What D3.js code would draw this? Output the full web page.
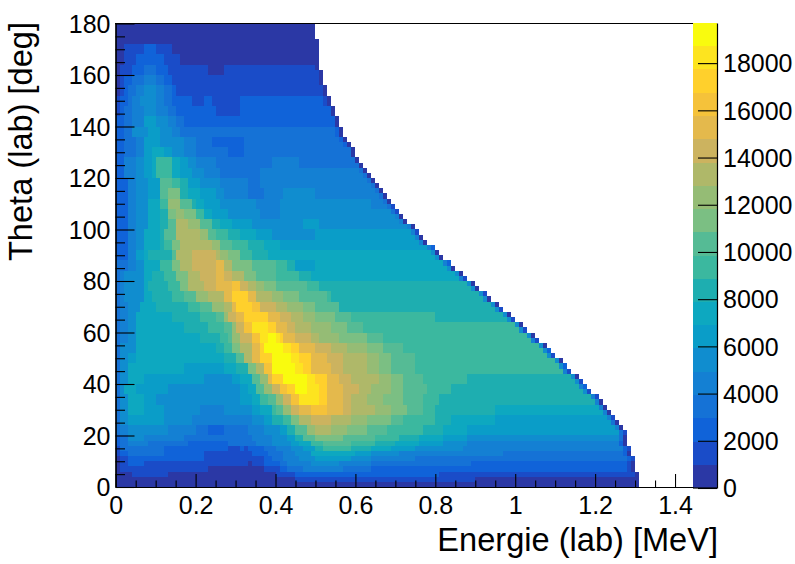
<!DOCTYPE html>
<html><head><meta charset="utf-8">
<script src="https://cdn.jsdelivr.net/npm/d3@7/dist/d3.min.js"></script>
<style>html,body{margin:0;background:#fff}svg{display:block}text{font-family:"Liberation Sans",Arial,sans-serif;fill:#000}</style>
</head><body><svg id="c" width="795" height="564"></svg>
<script>
// Z bands of the colour palette (20 contours, 985 counts each)
const bandColors=["#2b38a5","#1a4cc8","#1063d9","#1572d6","#1480d3","#108dcf","#0a9dc8","#0da8c0","#1eaeb0","#3bb89f","#55bb95","#7bbf83","#95bc75","#afb869","#ccb35f","#e4b94c","#f5c23a","#ffd02c","#fde41f","#f9fb0e"];
const zMax=19700, zStep=985, binWidth=0.01, thetaBin=2;
const xTicks=[0,0.2,0.4,0.6,0.8,1,1.2,1.4];
const yTicks=[0,20,40,60,80,100,120,140,160,180];
const zTicks=[0,2000,4000,6000,8000,10000,12000,14000,16000,18000];
// Lower theta edge of every table row
const thetaLow=[0,2,4,6,8,10,12,14,16,18,20,24,28,32,36,40,44,48,52,56,60,64,68,72,76,80,84,88,92,96,100,104,108,112,116,120,124,128,132,136,140,144,148,152,156,160,164,168,172,176,180];
// Runs: start bin, Z band, start bin, Z band ...
const bandRuns=[
[0,0],
[0,0,45,1,90,0],
[0,0,4,1,13,0,40,1,45,2,81,1],
[0,0,1,1,23,0,37,1,41,2,43,3,47,4,57,3,64,2],
[0,0,1,1,3,2,7,1,33,0,34,1,37,2,41,3,43,4,49,5,56,4,64,3,89,2],
[0,0,1,1,3,2,22,1,37,2,39,3,42,4,46,5,50,6,59,5,64,4,75,3],
[0,1,1,2,3,3,12,2,22,1,34,2,38,3,42,4,45,5,49,7,60,6,64,5,71,4,97,3],
[0,1,1,3,12,2,28,1,31,2,32,1,33,2,37,3,40,4,44,5,47,6,50,8,52,9,59,8,64,7,69,6,75,5,87,4],
[0,2,1,3,3,4,8,3,18,2,28,3,35,4,39,5,44,6,46,7,49,9,52,10,59,9,65,8,70,7,76,6,82,5,88,4],
[0,2,1,3,3,5,7,4,17,3,34,4,39,5,43,6,45,8,47,10,50,11,57,10,65,9,71,8,76,7,82,6,88,5],
[0,3,1,4,3,5,13,4,20,3,23,2,27,3,33,4,37,5,41,6,43,8,45,10,48,12,50,13,54,12,58,11,63,10,68,9,77,8,82,7,88,6],
[0,3,1,5,3,6,12,5,19,4,34,5,37,6,39,8,42,9,44,11,46,13,49,14,54,13,59,12,63,11,69,10,72,9,80,8,84,7,95,6],
[0,3,1,5,3,7,7,6,12,5,21,4,27,5,34,6,36,7,39,9,40,10,42,12,44,14,46,15,49,16,53,15,57,14,59,13,65,12,69,11,73,10,77,9,80,8,95,7],
[0,3,1,5,3,7,7,6,10,5,31,6,34,7,36,9,38,10,40,12,42,14,44,16,46,18,51,17,53,15,57,14,59,13,63,12,67,11,72,10,77,9,81,8],
[0,3,1,5,2,7,5,6,13,5,31,6,33,7,35,10,37,12,39,14,41,16,43,17,45,19,48,18,51,17,53,15,57,14,61,13,64,12,69,11,72,10,78,9,84,8],
[0,3,1,5,3,7,7,6,22,5,29,6,31,7,34,10,36,12,38,15,39,17,42,19,48,18,50,17,53,15,56,14,59,13,66,12,69,11,72,10,77,9,88,8],
[0,3,1,5,3,7,17,6,27,7,30,8,33,11,35,13,37,16,39,19,45,18,47,17,49,15,54,14,57,13,63,12,66,11,69,10,75,9],
[0,3,1,5,3,6,5,7,27,8,30,10,32,13,34,15,36,17,39,19,44,18,46,17,49,15,53,14,57,13,63,12,66,11,69,10,75,9],
[0,3,1,5,5,7,25,8,27,9,29,11,31,13,34,15,36,17,37,19,42,18,44,17,46,15,50,14,54,13,58,12,63,11,67,10,72,9],
[0,3,1,4,3,5,5,7,21,8,26,9,28,10,29,12,31,14,34,16,36,18,38,19,40,18,41,17,42,15,45,14,49,13,51,12,56,11,63,10,67,9],
[0,3,1,4,3,5,5,7,17,8,23,9,27,10,29,12,30,14,32,16,34,18,38,17,40,15,43,14,45,13,49,12,54,11,58,10,62,9],
[0,3,1,4,3,5,5,7,14,8,21,9,25,10,27,12,28,14,30,15,32,17,38,15,41,14,44,13,47,12,50,11,55,10,59,9,80,8],
[0,3,1,4,3,5,6,7,10,8,18,9,21,10,24,12,27,13,29,15,30,17,34,16,36,14,40,13,43,12,47,11,50,10,56,8],
[0,3,1,4,2,5,7,7,9,8,14,9,17,10,20,12,23,13,27,15,29,17,33,15,35,13,39,12,42,11,46,10,53,9,54,8],
[0,3,1,4,2,5,7,7,8,8,13,9,16,11,18,13,22,14,25,15,29,16,31,14,33,13,35,12,37,11,40,10,48,9,51,8],
[0,3,1,4,2,5,7,7,9,8,12,9,15,11,18,13,21,14,25,15,27,14,29,13,32,11,35,10,40,9,46,8,49,7],
[0,3,3,4,5,5,7,7,11,9,14,11,16,13,19,14,25,15,27,13,29,11,34,10,40,9,43,8,45,6,50,7],
[0,2,3,4,5,6,7,7,8,8,14,10,15,13,19,14,25,13,26,12,28,11,31,9,34,8,38,7],
[0,2,3,4,5,5,7,7,11,8,12,9,14,11,16,13,24,12,26,10,29,9,33,8,37,7,41,6],
[0,2,3,4,5,5,7,7,11,8,12,10,15,13,21,12,23,10,25,9,28,8,31,7,35,6,39,5,50,6],
[0,2,3,4,5,5,8,7,11,8,13,10,15,13,18,12,21,10,24,8,26,7,29,6,34,5,47,6,51,5],
[0,2,3,4,5,5,8,7,11,8,13,11,15,12,17,11,20,9,22,7,24,6,28,5,36,4,41,5],
[0,2,3,4,5,5,8,7,11,9,13,12,16,10,19,8,20,7,22,6,26,5,35,4,41,5,64,4],
[0,2,3,4,5,5,8,6,11,10,13,11,16,8,18,7,21,6,25,5,27,4,33,3,37,4,42,5,50,4],
[0,2,3,4,5,5,8,6,11,10,14,9,16,8,18,6,21,5,26,4,33,3,36,4],
[0,2,2,4,5,5,7,6,9,7,10,9,14,7,16,6,19,5,22,4,26,3,36,4],
[0,2,2,4,5,5,7,6,9,7,10,9,14,7,16,6,18,5,20,4,25,3,39,4,46,3],
[0,2,2,3,5,4,7,6,9,7,12,6,14,5,17,4,20,3,28,2,32,3],
[0,2,2,3,5,4,7,6,11,5,17,4,20,3,24,2,32,3],
[0,2,2,3,4,5,8,6,11,5,14,4,16,3],
[0,2,2,3,4,4,7,6,10,5,13,4,15,3,17,2],
[0,1,1,2,2,3,4,4,7,5,10,4,13,3,15,2,25,1,31,2],
[0,1,1,2,3,3,4,4,6,5,10,4,12,3,14,2,19,1,22,2,24,1,31,2],
[0,0,1,1,2,2,3,3,5,4,7,5,10,4,12,3,14,2,15,1],
[0,0,1,1,2,2,4,3,7,4,10,3,12,2,14,1],
[0,0,1,1,4,2,7,3,10,2,13,1,23,0,27,1],
[0,0,2,1,5,2,12,1,16,0],
[0,0,2,1,7,2,10,1,14,0],
[0,0],
[0,0]
];
// Number of filled energy bins in each 2-degree theta row
const lastBin=[131,131,131,130,130,130,129,129,128,128,128,127,126,125,124,123,122,121,119,118,117,116,114,113,112,110,109,108,106,105,103,102,100,99,97,96,94,93,91,90,88,87,85,84,82,81,80,78,77,76,75,73,72,71,70,69,68,67,66,65,64,63,62,61,60,60,59,58,57,57,56,56,55,55,54,54,53,53,52,52,52,51,51,51,51,51,51,50,50,50];
// Z band of the outermost bin and the one inside it, per theta row
const edgeOuter=[0,0,0,0,0,1,0,1,0,0,1,0,0,1,0,0,0,1,1,2,1,0,1,2,0,1,2,0,1,0,1,0,1,0,1,0,0,1,0,0,1,0,0,2,0,0,2,0,0,1,0,0,0,1,1,0,0,0,0,0,0,0,0,0,0,0,0,0,0,0,0,0,0,0,0,0,0,0,0,0,0,0,0,0,0,0,0,0,0,0];
const edgeInner=[0,0,1,1,1,2,2,2,2,3,3,4,3,4,4,4,4,4,5,4,5,5,4,5,5,5,5,5,4,5,5,5,5,5,5,5,5,5,5,5,4,5,5,4,5,5,4,4,4,4,4,4,4,3,3,3,3,3,3,3,3,3,3,3,3,3,2,2,2,2,2,2,2,2,1,1,1,1,1,1,1,1,0,0,0,0,0,0,0,0];

const x=d3.scaleLinear().domain([0,1.445]).range([115.7,693]);
const y=d3.scaleLinear().domain([0,180]).range([487,23.5]);
const z=d3.scaleLinear().domain([0,zMax]).range([488,23]);
const color=d3.scaleQuantize().domain([0,zMax]).range(bandColors);
const count=b=>(b+0.5)*zStep;

const cells=[];
lastBin.forEach((n,i)=>{
  const theta=i*thetaBin;
  const r=d3.bisectRight(thetaLow,theta)-1, runs=bandRuns[r];
  for(let k=0;k<runs.length;k+=2){
    const a=runs[k], b=Math.min(k+2<runs.length?runs[k+2]:n,n-2);
    if(b>a) cells.push({theta,a,b,v:count(runs[k+1])});
  }
  cells.push({theta,a:n-2,b:n-1,v:count(edgeInner[i])});
  cells.push({theta,a:n-1,b:n,v:count(edgeOuter[i])});
});

const svg=d3.select("#c");
svg.append("g").attr("shape-rendering","crispEdges").selectAll("rect").data(cells).join("rect")
 .attr("x",d=>Math.round(x(d.a*binWidth)))
 .attr("width",d=>Math.round(x(d.b*binWidth))-Math.round(x(d.a*binWidth)))
 .attr("y",d=>Math.round(y(d.theta+thetaBin)))
 .attr("height",d=>Math.round(y(d.theta))-Math.round(y(d.theta+thetaBin)))
 .attr("fill",d=>color(d.v));

const bands=d3.range(bandColors.length);
svg.append("g").attr("shape-rendering","crispEdges").selectAll("rect").data(bands).join("rect")
 .attr("x",693).attr("width",24)
 .attr("y",b=>Math.round(z((b+1)*zStep)))
 .attr("height",b=>Math.round(z(b*zStep))-Math.round(z((b+1)*zStep)))
 .attr("fill",b=>color(count(b)));

function styleAxis(g){g.select(".domain").attr("stroke","#000").attr("stroke-width",1.2);
 g.selectAll("line").attr("stroke","#000").attr("stroke-width",1.1);
 g.selectAll("text").attr("font-size",25).attr("fill","#000");}

const fmtX=d=>String(d);
const gx=svg.append("g").attr("transform","translate(0,487)");
gx.append("g").call(d3.axisBottom(x).tickValues(d3.range(0,1.44,0.05).filter(v=>Math.abs(v*5-Math.round(v*5))>1e-6)).tickSize(-6.5).tickSizeOuter(0).tickFormat("")).call(styleAxis);
gx.append("g").call(d3.axisBottom(x).tickValues(xTicks).tickSize(-13).tickSizeOuter(0).tickFormat(fmtX)).call(styleAxis)
  .selectAll("text").attr("y",9).attr("dy","0.71em");
const gy=svg.append("g").attr("transform","translate(115.5,0)");
gy.append("g").call(d3.axisLeft(y).tickValues(d3.range(0,181,5).filter(v=>v%20)).tickSize(-9.5).tickSizeOuter(0).tickFormat("")).call(styleAxis);
gy.append("g").call(d3.axisLeft(y).tickValues(yTicks).tickSize(-19).tickSizeOuter(0).tickFormat(fmtX)).call(styleAxis)
  .selectAll("text").attr("x",-5).attr("dy","0.35em");
svg.append("line").attr("x1",115).attr("x2",693).attr("y1",23.5).attr("y2",23.5).attr("stroke","#000").attr("stroke-width",1.2);
const gz=svg.append("g").attr("transform","translate(717,0)");
gz.append("g").call(d3.axisRight(z).tickValues(zTicks).tickSize(-19).tickSizeOuter(0).tickFormat(fmtX)).call(styleAxis)
  .selectAll("text").attr("x",6).attr("dy","0.35em");
svg.append("line").attr("x1",693).attr("x2",717).attr("y1",488).attr("y2",488).attr("stroke","#000").attr("stroke-width",1.2);

svg.append("text").attr("x",718).attr("y",551).attr("text-anchor","end").attr("font-size",32.6).text("Energie (lab) [MeV]");
svg.append("text").attr("transform","translate(32,22) rotate(-90)").attr("text-anchor","end").attr("font-size",32.6).text("Theta (lab) [deg]");
</script></body></html>
